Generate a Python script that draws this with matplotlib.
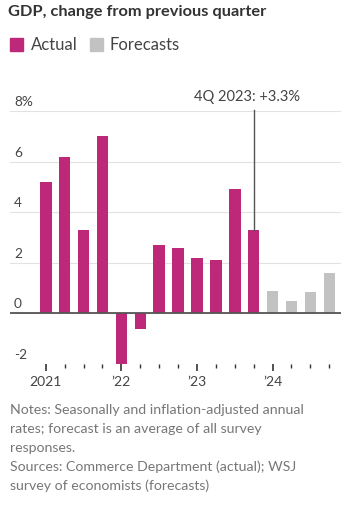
import matplotlib
matplotlib.use("Agg")
import matplotlib.pyplot as plt
import matplotlib.transforms as mtransforms

plt.rcParams['font.family'] = ['Lato', 'DejaVu Sans']

quarters = ["1Q21", "2Q21", "3Q21", "4Q21", "1Q22", "2Q22", "3Q22", "4Q22",
            "1Q23", "2Q23", "3Q23", "4Q23", "1Q24", "2Q24", "3Q24", "4Q24"]
actual = [5.2, 6.2, 3.3, 7.0, -2.0, -0.6, 2.7, 2.6, 2.2, 2.1, 4.9, 3.3]
forecasts = [0.9, 0.5, 0.85, 1.6]
year_labels = ["2021", "\u201922", "\u201923", "\u201924"]
ytick_vals = [-2, 0, 2, 4, 6, 8]
ytick_labels = ["-2", "0", "2", "4", "6", "8%"]

MAGENTA = "#bd2878"
GRAY = "#c2c2c2"
TEXT = "#444444"

W, H = 355, 515
fig = plt.figure(figsize=(W / 100, H / 100), dpi=100)
fig.patch.set_facecolor("white")

ax = fig.add_axes([10 / W, 1 - 364 / H, 331 / W, (364 - 111) / H])
n_act = len(actual)
xa = list(range(n_act))
xf = list(range(n_act, n_act + len(forecasts)))
ax.bar(xa, actual, width=0.61, color=MAGENTA, zorder=3)
ax.bar(xf, forecasts, width=0.61, color=GRAY, zorder=3)

ax.set_xlim(-1.894, 15.62)
ax.set_ylim(-2, 8)

for v in ytick_vals:
    ax.axhline(v, color="#e2e2e2", lw=0.8, zorder=1)
ax.axhline(0, color="#555555", lw=1.3, zorder=4)

ax.set_yticks([])
for sp in ax.spines.values():
    sp.set_visible(False)

trans = mtransforms.blended_transform_factory(ax.transAxes, ax.transData)
for v, lab in zip(ytick_vals, ytick_labels):
    ax.text(0.012, v + 0.12, lab, transform=trans, ha="left", va="bottom",
            fontsize=9.8, color=TEXT)

ax.set_xticks([0, 4, 8, 12])
ax.set_xticklabels(year_labels, fontsize=10, color=TEXT)
ax.set_xticks(range(len(quarters)), minor=True)
ax.tick_params(axis="x", which="major", length=5, width=1.2, color="#333333", pad=4)
ax.tick_params(axis="x", which="minor", length=3, width=1.0, color="#333333")

# annotation
i_last = n_act - 1
ax.plot([i_last, i_last], [actual[-1], 8.05], color="#555555", lw=1.0,
        clip_on=False, zorder=5)
ax.annotate("4Q 2023: +3.3%", xy=(i_last, 8.05), xytext=(-5, 4),
            textcoords="offset points", ha="center", va="bottom",
            fontsize=10.5, color=TEXT, annotation_clip=False)

# title and legend
fig.text(8 / W, 1 - 16 / H, "GDP, change from previous quarter", fontsize=11.8,
         fontweight="bold", color="#333333", ha="left", va="baseline")
fig.patches.append(plt.Rectangle((10 / W, 1 - 51 / H), 13 / W, 13 / H,
                                 transform=fig.transFigure, color=MAGENTA))
fig.text(31 / W, 1 - 50 / H, "Actual", fontsize=12, color=TEXT, va="baseline")
fig.patches.append(plt.Rectangle((90 / W, 1 - 51 / H), 13 / W, 13 / H,
                                 transform=fig.transFigure, color=GRAY))
fig.text(110 / W, 1 - 50 / H, "Forecasts", fontsize=12, color=TEXT, va="baseline")

notes = ["Notes: Seasonally and inflation-adjusted annual",
         "rates; forecast is an average of all survey",
         "responses.",
         "Sources: Commerce Department (actual); WSJ",
         "survey of economists (forecasts)"]
for k, line in enumerate(notes):
    fig.text(10 / W, 1 - (414 + 19 * k) / H, line, fontsize=10.2, color="#777777",
             va="baseline")

fig.savefig("out.png", dpi=100)
